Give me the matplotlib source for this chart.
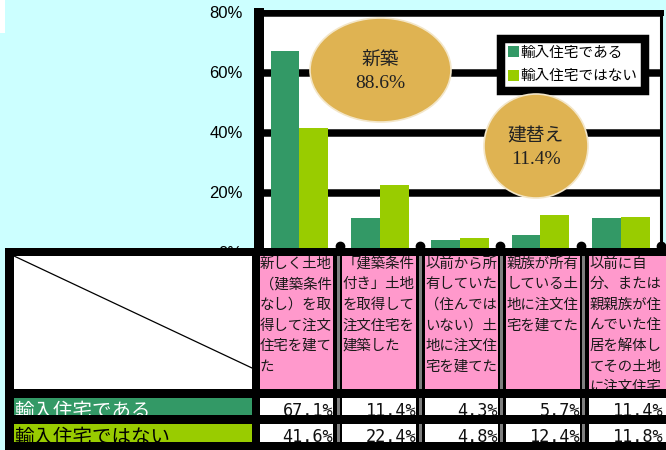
import matplotlib
matplotlib.use("Agg")
import matplotlib.pyplot as plt
from matplotlib.patches import Rectangle, Ellipse
import numpy as np

plt.rcParams['font.family'] = ['Noto Sans CJK JP', 'DejaVu Sans']

# ---------------- data ----------------
categories = [
    "新しく土地\n（建築条件\nなし）を取\n得して注文\n住宅を建て\nた",
    "「建築条件\n付き」土地\nを取得して\n注文住宅を\n建築した",
    "以前から所\n有していた\n（住んでは\nいない）土\n地に注文住\n宅を建てた",
    "親族が所有\nしている土\n地に注文住\n宅を建てた",
    "以前に自\n分、または\n親親族が住\nんでいた住\n居を解体し\nてその土地\nに注文住宅\nを建てた",
]
series_names = ["輸入住宅である", "輸入住宅ではない"]
imported = [67.1, 11.4, 4.3, 5.7, 11.4]
not_imported = [41.6, 22.4, 4.8, 12.4, 11.8]
yticks = [0, 20, 40, 60, 80]
bubble_labels = ["新築", "建替え"]
bubble_values = [88.6, 11.4]

# ---------------- style ----------------
C_GREEN = '#339966'
C_LIME = '#99CC00'
C_PINK = '#FF99CC'
C_BG = '#CCFFFF'
C_BUBBLE = '#DFB352'
W, H = 666, 450

fig = plt.figure(figsize=(W / 100, H / 100), dpi=100, facecolor=C_BG)

def fig_rect(l, t, r, b):
    return [l / W, 1 - b / H, (r - l) / W, (b - t) / H]

# ---------------- chart ----------------
ax = fig.add_axes(fig_rect(259.3, 12.5, 661, 252.5), zorder=1)
ax.set_facecolor('white')
x = np.arange(len(categories))
bw = 0.36
b1 = ax.bar(x - bw / 2, imported, bw, color=C_GREEN, zorder=2, label=series_names[0])
b2 = ax.bar(x + bw / 2, not_imported, bw, color=C_LIME, zorder=2, label=series_names[1])
ax.set_xlim(-0.5, len(categories) - 0.5)
ax.set_ylim(0, 80)
ax.set_yticks(yticks)
ax.set_yticklabels([f"{v}%" for v in yticks], family='Liberation Sans', fontsize=12)
ax.set_xticks([])
ax.tick_params(axis='y', length=0, pad=12)
ax.yaxis.grid(True, color='black', linewidth=5.4)
ax.set_axisbelow(True)
ax.spines['left'].set_linewidth(7.2)
ax.spines['top'].set_linewidth(4.3)
ax.spines['right'].set_linewidth(2.2)
ax.spines['bottom'].set_visible(False)
for s in ax.spines.values():
    s.set_color('black')
    s.set_capstyle('projecting')

# category boundary dots
ax.plot(x + 0.5, [0.027] * len(x), 'o', color='black', markersize=6,
        transform=ax.get_xaxis_transform(), clip_on=False, zorder=5)

leg = ax.legend(handles=[b1, b2], loc='upper left',
                bbox_to_anchor=(500.5 / W, 1 - 38.5 / H), bbox_transform=fig.transFigure,
                frameon=True, fancybox=False, framealpha=1, edgecolor='black',
                borderpad=0.5, labelspacing=0.65, handlelength=0.75, handleheight=0.75,
                handletextpad=0.15, borderaxespad=0,
                prop={'family': 'Noto Sans CJK JP', 'size': 10.5})
leg.get_frame().set_linewidth(6.1)

# ---------------- overlay (bubbles + table) ----------------
ov = fig.add_axes([0, 0, 1, 1], zorder=5)
ov.set_xlim(0, W)
ov.set_ylim(H, 0)
ov.axis('off')
ov.patch.set_alpha(0)

ov.add_patch(Rectangle((0, 0), 4.5, 33, fc='white', ec='none'))

bubbles = [((380.5, 70), 141, 104), ((536, 146), 104, 104)]
for (c, w, h), lab, val in zip(bubbles, bubble_labels, bubble_values):
    ov.add_patch(Ellipse(c, w, h, fc=C_BUBBLE, ec='#F3E6C8', lw=1.2))
    ov.text(c[0], c[1] - 10, lab, ha='center', va='center', fontsize=13.5, color='#222222')
    ov.text(c[0], c[1] + 13, f"{val}%", ha='center', va='center', fontsize=14,
            family='Liberation Serif', color='#222222')

# ---- table: cells are layered so that overflowing text is hidden under the
# black separators, like the clipped cells of the original sheet ----
HDR_T, HDR_B = 255.5, 389
ROWS = [(398, 415), (424, 442)]
col_l = [259.5, 342, 424.5, 506, 589]
col_r = [332.5, 416, 497.5, 580, 666]
gray_x = [337, 419, 500, 582]
row_colors = [C_GREEN, C_LIME]
row_text_colors = ['white', 'black']
series_vals = [imported, not_imported]
LINE0, LINE_STEP = 263.5, 20.6

def band(t, b, z):
    ov.add_patch(Rectangle((5, t), W - 5, b - t, fc='black', ec='none', zorder=z))

# frame
ov.add_patch(Rectangle((5, 248), W - 5, H - 248, fc='black', ec='none', zorder=1))
# header row
ov.add_patch(Rectangle((14, HDR_T), 238, HDR_B - HDR_T, fc='white', ec='none', zorder=1.2))
ov.plot([14, 252], [256, 368], color='black', lw=0.9, zorder=1.3)
for gx in gray_x:
    ov.add_patch(Rectangle((gx, HDR_T), 3, HDR_B - HDR_T, fc='#7F7F7F', ec='none', zorder=1.2))
for i, lab in enumerate(categories):
    l, r = col_l[i], col_r[i]
    ov.add_patch(Rectangle((l, HDR_T), r - l, HDR_B - HDR_T, fc=C_PINK, ec='none', zorder=1.2))
    for j, line in enumerate(lab.split('\n')):
        yc = LINE0 + j * LINE_STEP
        if yc - 7.5 >= HDR_B:      # line lies wholly outside the cell (cut off)
            break
        ov.text(l + 0.5, yc, line, ha='left', va='center',
                fontsize=10.4, color='#1a1a1a', zorder=1.5)
band(HDR_B, ROWS[0][0], 2)

# data rows
for k, ((rt, rb), name, fc, tc, vals) in enumerate(
        zip(ROWS, series_names, row_colors, row_text_colors, series_vals)):
    z0 = 3 + 2 * k
    ov.add_patch(Rectangle((14, rt), 238, rb - rt, fc=fc, ec='none', zorder=z0))
    ov.text(14, rt + 19, name, ha='left', va='baseline', fontsize=14, color=tc, zorder=z0 + 0.5)
    for gx in gray_x:
        ov.add_patch(Rectangle((gx, rt), 3, rb - rt, fc='#7F7F7F', ec='none', zorder=z0))
    for i in range(len(categories)):
        l, r = col_l[i], col_r[i]
        ov.add_patch(Rectangle((l, rt), r - l, rb - rt, fc='white', ec='none', zorder=z0))
        ov.text(r + 0.5 if i < 4 else 664, rt + 17.5, f"{vals[i]:.1f}%", ha='right',
                va='baseline', fontsize=12.2, family='DejaVu Sans Mono', color='#111111',
                zorder=z0 + 0.5)
    nxt = ROWS[k + 1][0] if k + 1 < len(ROWS) else H
    band(rb, nxt, z0 + 1)

fig.savefig('out.png', dpi=100, facecolor=C_BG)
